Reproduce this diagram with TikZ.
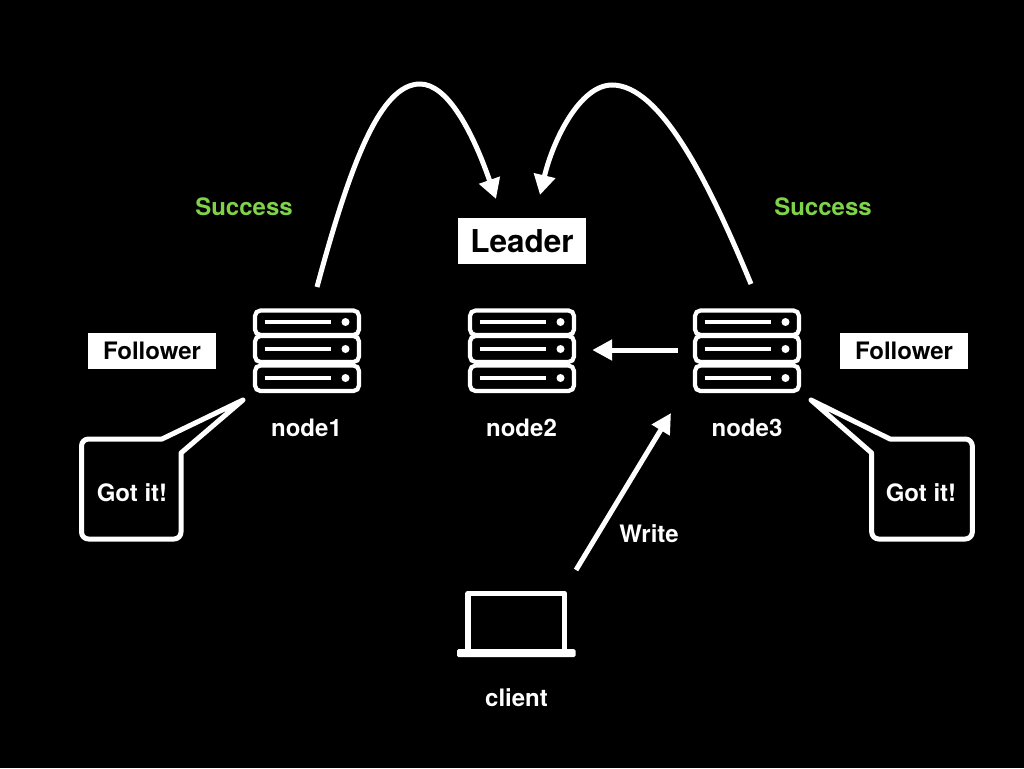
\documentclass[tikz,border=0pt]{standalone}
\usepackage{fontspec}
\setmainfont{TeX Gyre Heros}
\usetikzlibrary{arrows.meta}
\definecolor{succ}{RGB}{126,211,72}
\tikzset{
  x=1pt,y=-1pt,
  wline/.style={draw=white,line width=5pt,line join=round},
  lab/.style={text=white,font=\fontsize{24}{28}\selectfont\bfseries,inner sep=0pt},
  succlab/.style={text=succ,font=\fontsize{24}{28}\selectfont\bfseries,inner sep=0pt},
  tag/.style={fill=white,text=black,font=\fontsize{24}{28}\selectfont\bfseries,inner sep=0pt,minimum width=128pt,minimum height=36pt},
  bigtag/.style={tag,font=\fontsize{31.5}{36}\selectfont\bfseries,minimum height=46pt},
  serverbox/.style={minimum width=108pt,minimum height=85pt,inner sep=0pt},
  srow/.style={draw=white,line width=4.2pt,rounded corners=5.5pt},
  sbar/.style={draw=white,line width=4.2pt},
  tipbig/.style={-{Triangle[length=20pt,width=21pt]}},
  tipsmall/.style={-{Triangle[length=20pt,width=20pt]}},
  server/.pic={
    \draw[srow] (-52,-39.5) rectangle (52,-15);
    \draw[srow] (-52,-14) rectangle (52,12);
    \draw[srow] (-52,15.5) rectangle (52,41);
    \foreach \yy in {-28,-1,28} {
      \draw[sbar] (-42.5,\yy) -- (23.5,\yy);
      \fill[white] (38.5,\yy) circle (4);
    }
  }
}
\begin{document}
\begin{tikzpicture}
\fill[black] (0,0) rectangle (1024,768);
\useasboundingbox (0,0) rectangle (1024,768);
% servers
\node[serverbox] (s1) at (307,350) {};
\node[serverbox] (s2) at (522,350) {};
\node[serverbox] (s3) at (747,350) {};
\pic at (s1) {server};
\pic at (s2) {server};
\pic at (s3) {server};
% labels
\node[lab] (n1) at (306.5,428) {node1};
\node[lab] (n2) at (521.5,428) {node2};
\node[lab] (n3) at (747,428) {node3};
\node[bigtag] (leader) at (522,241) {Leader};
\node[tag,text height=17pt,text depth=0pt] (f1) at (152,351) {Follower};
\node[tag,text height=17pt,text depth=0pt] (f3) at (904,351) {Follower};
\node[succlab] (su1) at (244,207) {Success};
\node[succlab] (su3) at (823,207) {Success};
\node[lab] (wr) at (649,534) {Write};
\node[lab] (cl) at (516.5,698) {client};
% callouts
\draw[wline] (243,400) -- (162,439) [rounded corners=7pt] -- (81.5,439) -- (81.5,539) -- (181,539) [sharp corners] -- (181,453) -- cycle;
\draw[wline] (811,400) -- (890,439) [rounded corners=7pt] -- (972.3,439) -- (972.3,539) -- (871.7,539) [sharp corners] -- (871.7,453) -- cycle;
\node[lab] (g1) at (132,493) {Got it!};
\node[lab] (g3) at (921,493) {Got it!};
% laptop
\node[minimum width=118pt,minimum height=66pt,inner sep=0pt] (client) at (516,624) {};
\draw[draw=white,line width=5.5pt,line join=round] (468,649) -- (468,593.5) -- (564.5,593.5) -- (564.5,649);
\fill[white,rounded corners=1.5pt] (457,649) rectangle (575.5,657);
% connectors
\coordinate (a1) at (317,287);
\coordinate (a1top) at (420,84);
\coordinate (a1end) at (496,199);
\coordinate (a3) at (751,284);
\coordinate (a3top) at (612,85);
\coordinate (a3end) at (540,195);
\coordinate (w0) at (576,570);
\coordinate (w1) at (671,413);
\draw[draw=white,line width=5pt,tipbig] (a1) .. controls (350,165) and (380,84) .. (a1top) .. controls (447,84) and (472,130) .. (a1end);
\draw[draw=white,line width=5pt,tipbig] (a3) .. controls (708,180) and (660,85) .. (a3top) .. controls (580,85) and (553,140) .. (a3end);
\draw[draw=white,line width=5pt,tipsmall,shorten <=15pt,shorten >=16pt] (s3.west) -- (s2.east);
\draw[draw=white,line width=5pt,tipsmall] (w0) -- (w1);
\end{tikzpicture}
\end{document}
